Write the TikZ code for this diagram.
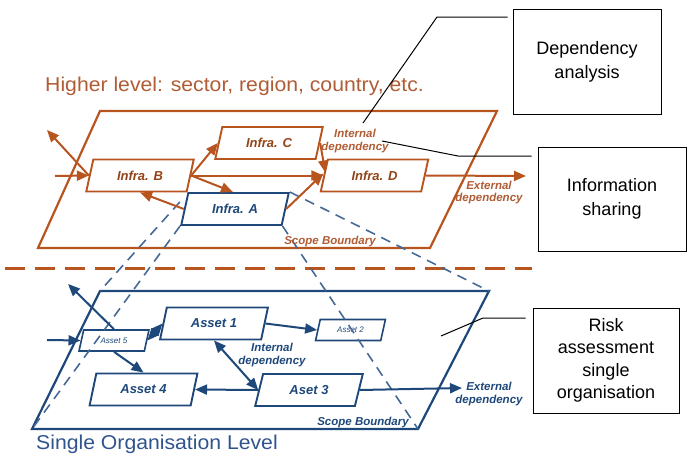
\documentclass[tikz,border=0pt]{standalone}
\usepackage{fontspec}
\setmainfont{Liberation Sans}
\usetikzlibrary{shapes.geometric,arrows.meta}
\definecolor{obrown}{RGB}{184,84,30}
\definecolor{otext}{RGB}{176,92,52}
\definecolor{dblue}{RGB}{30,72,122}
\definecolor{tblue}{RGB}{48,84,140}
\definecolor{lblue}{RGB}{70,105,150}
\tikzset{
  para/.style={shape=trapezium, trapezium left angle=70, trapezium right angle=110,
    trapezium stretches=true, minimum width=108pt, minimum height=32pt, inner sep=0pt,
    line width=1.9pt, font=\fontsize{13}{14}\selectfont\bfseries\itshape},
  opara/.style={para, draw=obrown, text=obrown!80!black},
  bpara/.style={para, draw=dblue, text=dblue},
  smallpara/.style={para, minimum width=70pt, minimum height=21pt, line width=1.6pt,
    font=\fontsize{8}{9}\selectfont\itshape},
  tip/.style={},
  oarr/.style={draw=obrown, line width=2pt, -{Triangle[length=12pt,width=10pt]}},
  barr/.style={draw=dblue, line width=2pt, -{Triangle[length=12pt,width=10pt]}},
  dbl/.style={{Triangle[length=12pt,width=10pt]}-{Triangle[length=12pt,width=10pt]}},
  olab/.style={text=otext, font=\fontsize{11.5}{12.5}\selectfont\bfseries\itshape, align=center, inner sep=0pt},
  blab/.style={text=dblue, font=\fontsize{11.5}{12.5}\selectfont\bfseries\itshape, align=center, inner sep=0pt},
  plane/.style={line width=2.2pt},
  infobox/.style={draw=black, line width=0.9pt, font=\fontsize{18}{24}\selectfont, align=center, inner sep=0pt},
  callout/.style={draw=black, line width=1pt},
  proj/.style={draw=lblue, line width=1.6pt, dash pattern=on 10pt off 7pt},
  bigtitle/.style={font=\fontsize{20}{22}\selectfont, anchor=west, inner sep=0pt}
}
\begin{document}
\begin{tikzpicture}[x=1pt,y=-1pt]
\useasboundingbox (0,0) rectangle (693,455);

% titles
\node[text=otext, bigtitle] (htitle) at (45,86) {\scalebox{1.06}[1]{Higher level: sector, region, country, etc.}};
\node[text=tblue, bigtitle] (ltitle) at (36,444) {\scalebox{1.06}[1]{Single Organisation Level}};

% planes
\draw[obrown, plane] (100,111) -- (497,111) -- (430,248) -- (38,248) -- cycle;
\draw[dblue, plane] (100,291) -- (489,291) -- (418,429) -- (32,429) -- cycle;

% separating dashed line
\draw[obrown, line width=3pt, dash pattern=on 20pt off 10pt] (5,268) -- (532,268);

% upper nodes
\node[opara] (B) at (140,175.5) {Infra. B};
\node[opara] (C) at (269,143) {Infra. C};
\node[bpara] (A) at (235,209) {Infra. A};
\node[opara] (D) at (374.5,175.5) {Infra. D};

% lower nodes
\node[bpara, smallpara] (A5) at (114,340.5) {Asset 5};
\node[bpara] (A1) at (214,323.5) {Asset 1};
\node[bpara, smallpara] (A2) at (350.5,330) {Asset 2};
\node[bpara] (A4) at (143.5,389.5) {Asset 4};
\node[bpara] (A3) at (309,390) {Aset 3};

% projection lines
\coordinate (ptl) at (100,291);
\coordinate (ptr) at (489,291);
\coordinate (pbr) at (418,429);
\coordinate (pbl) at (32,429);
\draw[proj] ([shift={(-4,-7)}]A.west) -- (ptl);
\draw[proj] (A.bottom left corner) -- (pbl);
\draw[proj] (A.top right corner) -- (ptr);
\draw[proj] (A.bottom right corner) -- (pbr);

% upper connectors
\coordinate (uin) at (55,176);
\coordinate (uout) at (47,130);
\coordinate (uext) at (526,176);
\draw[oarr] (uin) -- (B.west);
\draw[oarr] (B.west) -- (uout);
\draw[oarr] (B.east) -- (C.west);
\draw[oarr] (B.east) -- (D.west);
\draw[oarr] (B.east) -- ([xshift=-2pt]A.north);
\draw[oarr] (A.west) -- (B.south);
\draw[oarr] (A.east) -- ([yshift=2pt]D.west);
\draw[oarr] (C.east) -- ([shift={(2,-3)}]D.west);
\draw[oarr] (D.east) -- (uext);

% lower connectors
\coordinate (lin) at (47,340);
\coordinate (lout) at (68,284);
\coordinate (lext) at (462,388);
\draw[barr] (lin) -- (A5.west);
\draw[barr] (A5.north) -- (lout);
\draw[barr, dbl] (A5.east) -- (A1.west);
\draw[barr] (A5.south) -- (A4.north);
\draw[barr] (A1.east) -- (A2.west);
\draw[barr, dbl] (A1.south) -- (A3.west);
\draw[barr] (A3.west) -- (A4.east);
\draw[barr] (A3.east) -- (lext);

% labels
\node[olab] (uint) at (355,141) {Internal\\dependency};
\node[olab] (uextl) at (489,192.5) {External\\dependency};
\node[olab] (uscope) at (330,242) {Scope Boundary};
\node[blab] (lint) at (272,355) {Internal\\dependency};
\node[blab] (lextl) at (489,394) {External\\dependency};
\node[blab] (lscope) at (363,423) {Scope Boundary};

% info boxes
\node[infobox, minimum width=148pt, minimum height=105pt] (dep) at (587,61.5) {Dependency\\analysis};
\node[infobox, minimum width=148pt, minimum height=104pt] (info) at (612,199) {Information\\sharing};
\node[infobox, minimum width=146pt, minimum height=105pt, font=\fontsize{18}{22.5}\selectfont] (risk) at (606,360.5) {Risk\\assessment\\single\\organisation};

% callouts
\coordinate (c1) at (363,123);
\coordinate (c2) at (382,141);
\coordinate (c3) at (441,336);
\draw[callout] ([xshift=-5pt]dep.west |- 0,17) -- (437,17) -- (c1);
\draw[callout] ([xshift=-6pt]info.west |- 0,156) -- (458,156) -- (c2);
\draw[callout] ([xshift=-7pt]risk.west |- 0,318) -- (483,318) -- (c3);
\end{tikzpicture}
\end{document}
